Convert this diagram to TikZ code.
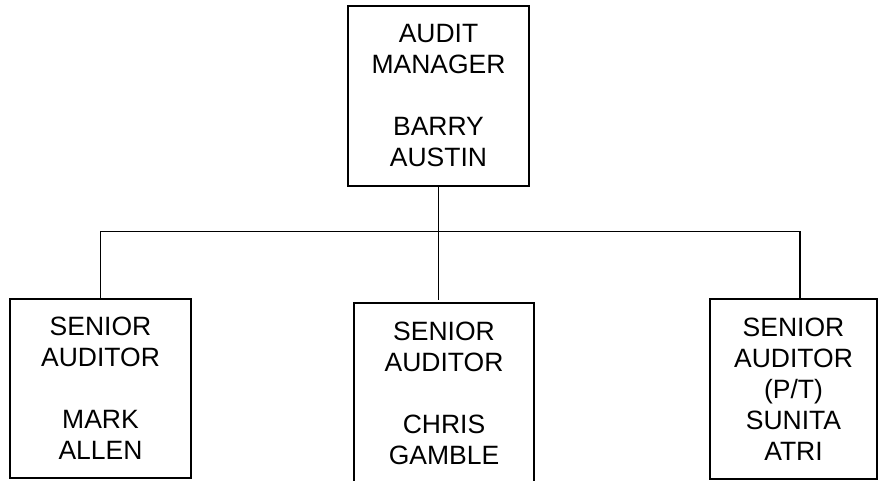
\documentclass[tikz,border=0pt]{standalone}
\usepackage{fontspec}
\setmainfont{Liberation Sans}
\begin{document}
\begin{tikzpicture}[x=1pt,y=-1pt,
  box/.style={draw=black,line width=1.8pt,rectangle,inner sep=0pt,align=center,
    font=\fontsize{26.5}{31}\selectfont},
  wire/.style={draw=black,line width=1.8pt}]
\useasboundingbox (0,0) rectangle (879,480);
\node[box,minimum width=181pt,minimum height=180pt] (am) at (438.5,96) {AUDIT\\MANAGER\\[31pt]BARRY\\AUSTIN};
\node[box,minimum width=181pt,minimum height=179pt] (sa1) at (100.5,388.5) {SENIOR\\AUDITOR\\[31pt]MARK\\ALLEN};
\node[box,minimum width=180pt,minimum height=180pt] (sa2) at (444,393) {SENIOR\\AUDITOR\\[31pt]CHRIS\\GAMBLE};
\node[box,minimum width=167pt,minimum height=180pt] (sa3) at (793.5,389) {SENIOR\\AUDITOR\\(P/T)\\SUNITA\\ATRI};
\coordinate (c1) at (100.5,231.5);
\coordinate (c3) at (800,231.5);
\coordinate (m) at (438.5,300);
\draw[wire] (sa1.north) -- (c1) -- (c3) -- (c3 |- sa3.north);
\draw[wire] (am.south) -- (m);
\end{tikzpicture}
\end{document}
